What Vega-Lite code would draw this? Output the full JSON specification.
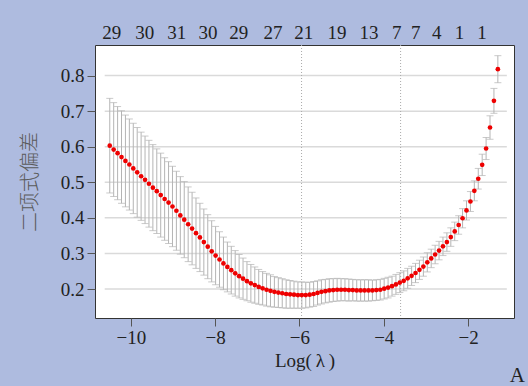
{
  "$schema": "https://vega.github.io/schema/vega-lite/v6.json",
  "width": 419,
  "height": 273,
  "autosize": {"type": "none"},
  "padding": {"left": 95, "top": 45, "right": 14, "bottom": 68},
  "background": "#aebbdf",
  "view": {"fill": "white", "stroke": "#333333", "strokeWidth": 1},
  "config": {
    "font": "Liberation Serif",
    "axis": {"domain": false, "grid": false, "tickSize": 8, "tickColor": "#555555", "labelColor": "#222222", "labelFontSize": 19, "labelFont": "Liberation Serif", "titleFontWeight": "normal", "labelFlush": false}
  },
  "title": {"text": "A", "orient": "bottom", "anchor": "end", "font": "Liberation Serif", "fontSize": 21, "fontWeight": "normal", "color": "#222222", "offset": -5, "dx": 11},
  "datasets": {
    "grid": [{"v": 0.2}, {"v": 0.3}, {"v": 0.4}, {"v": 0.5}, {"v": 0.6}, {"v": 0.7}, {"v": 0.8}],
    "vl": [{"x": -5.95}, {"x": -3.6}],
    "nz": [
      {"pos": -10.45, "n": "29"}, {"pos": -9.67, "n": "30"}, {"pos": -8.91, "n": "31"}, {"pos": -8.17, "n": "30"},
      {"pos": -7.44, "n": "29"}, {"pos": -6.63, "n": "27"}, {"pos": -5.90, "n": "21"}, {"pos": -5.11, "n": "19"},
      {"pos": -4.35, "n": "13"}, {"pos": -3.69, "n": "7"}, {"pos": -3.24, "n": "7"}, {"pos": -2.74, "n": "4"},
      {"pos": -2.20, "n": "1"}, {"pos": -1.67, "n": "1"}
    ],
    "cv": [
      {"x": -10.500, "m": 0.603, "lo": 0.470, "hi": 0.736},
      {"x": -10.407, "m": 0.592, "lo": 0.460, "hi": 0.724},
      {"x": -10.314, "m": 0.582, "lo": 0.451, "hi": 0.713},
      {"x": -10.221, "m": 0.571, "lo": 0.441, "hi": 0.701},
      {"x": -10.128, "m": 0.560, "lo": 0.431, "hi": 0.689},
      {"x": -10.035, "m": 0.550, "lo": 0.422, "hi": 0.678},
      {"x": -9.942, "m": 0.539, "lo": 0.412, "hi": 0.666},
      {"x": -9.849, "m": 0.528, "lo": 0.402, "hi": 0.654},
      {"x": -9.756, "m": 0.517, "lo": 0.393, "hi": 0.641},
      {"x": -9.663, "m": 0.507, "lo": 0.384, "hi": 0.630},
      {"x": -9.570, "m": 0.496, "lo": 0.374, "hi": 0.618},
      {"x": -9.477, "m": 0.485, "lo": 0.364, "hi": 0.606},
      {"x": -9.384, "m": 0.475, "lo": 0.356, "hi": 0.594},
      {"x": -9.291, "m": 0.464, "lo": 0.346, "hi": 0.582},
      {"x": -9.198, "m": 0.453, "lo": 0.337, "hi": 0.569},
      {"x": -9.105, "m": 0.443, "lo": 0.328, "hi": 0.558},
      {"x": -9.012, "m": 0.432, "lo": 0.319, "hi": 0.545},
      {"x": -8.919, "m": 0.420, "lo": 0.309, "hi": 0.531},
      {"x": -8.826, "m": 0.407, "lo": 0.298, "hi": 0.516},
      {"x": -8.733, "m": 0.395, "lo": 0.288, "hi": 0.502},
      {"x": -8.640, "m": 0.382, "lo": 0.277, "hi": 0.487},
      {"x": -8.547, "m": 0.370, "lo": 0.268, "hi": 0.472},
      {"x": -8.454, "m": 0.357, "lo": 0.258, "hi": 0.456},
      {"x": -8.361, "m": 0.345, "lo": 0.249, "hi": 0.441},
      {"x": -8.268, "m": 0.332, "lo": 0.239, "hi": 0.425},
      {"x": -8.175, "m": 0.319, "lo": 0.229, "hi": 0.409},
      {"x": -8.082, "m": 0.306, "lo": 0.220, "hi": 0.392},
      {"x": -7.989, "m": 0.294, "lo": 0.212, "hi": 0.376},
      {"x": -7.896, "m": 0.283, "lo": 0.205, "hi": 0.361},
      {"x": -7.803, "m": 0.272, "lo": 0.198, "hi": 0.346},
      {"x": -7.710, "m": 0.262, "lo": 0.192, "hi": 0.332},
      {"x": -7.617, "m": 0.253, "lo": 0.186, "hi": 0.320},
      {"x": -7.524, "m": 0.244, "lo": 0.180, "hi": 0.308},
      {"x": -7.431, "m": 0.236, "lo": 0.175, "hi": 0.297},
      {"x": -7.338, "m": 0.229, "lo": 0.171, "hi": 0.287},
      {"x": -7.245, "m": 0.222, "lo": 0.167, "hi": 0.277},
      {"x": -7.152, "m": 0.216, "lo": 0.163, "hi": 0.269},
      {"x": -7.059, "m": 0.211, "lo": 0.160, "hi": 0.262},
      {"x": -6.966, "m": 0.206, "lo": 0.157, "hi": 0.255},
      {"x": -6.873, "m": 0.202, "lo": 0.155, "hi": 0.249},
      {"x": -6.780, "m": 0.198, "lo": 0.152, "hi": 0.244},
      {"x": -6.687, "m": 0.195, "lo": 0.150, "hi": 0.240},
      {"x": -6.594, "m": 0.192, "lo": 0.149, "hi": 0.235},
      {"x": -6.501, "m": 0.190, "lo": 0.148, "hi": 0.232},
      {"x": -6.408, "m": 0.188, "lo": 0.147, "hi": 0.229},
      {"x": -6.315, "m": 0.186, "lo": 0.146, "hi": 0.226},
      {"x": -6.222, "m": 0.185, "lo": 0.146, "hi": 0.224},
      {"x": -6.129, "m": 0.184, "lo": 0.146, "hi": 0.222},
      {"x": -6.036, "m": 0.183, "lo": 0.146, "hi": 0.220},
      {"x": -5.943, "m": 0.183, "lo": 0.146, "hi": 0.220},
      {"x": -5.850, "m": 0.183, "lo": 0.147, "hi": 0.219},
      {"x": -5.757, "m": 0.184, "lo": 0.149, "hi": 0.219},
      {"x": -5.664, "m": 0.186, "lo": 0.151, "hi": 0.221},
      {"x": -5.571, "m": 0.189, "lo": 0.155, "hi": 0.223},
      {"x": -5.478, "m": 0.192, "lo": 0.158, "hi": 0.226},
      {"x": -5.385, "m": 0.194, "lo": 0.161, "hi": 0.227},
      {"x": -5.292, "m": 0.196, "lo": 0.163, "hi": 0.229},
      {"x": -5.199, "m": 0.197, "lo": 0.165, "hi": 0.229},
      {"x": -5.106, "m": 0.198, "lo": 0.166, "hi": 0.230},
      {"x": -5.013, "m": 0.198, "lo": 0.167, "hi": 0.229},
      {"x": -4.920, "m": 0.198, "lo": 0.167, "hi": 0.229},
      {"x": -4.827, "m": 0.197, "lo": 0.166, "hi": 0.228},
      {"x": -4.734, "m": 0.197, "lo": 0.167, "hi": 0.227},
      {"x": -4.641, "m": 0.196, "lo": 0.166, "hi": 0.226},
      {"x": -4.548, "m": 0.196, "lo": 0.166, "hi": 0.226},
      {"x": -4.455, "m": 0.196, "lo": 0.166, "hi": 0.226},
      {"x": -4.362, "m": 0.196, "lo": 0.166, "hi": 0.226},
      {"x": -4.269, "m": 0.196, "lo": 0.167, "hi": 0.225},
      {"x": -4.176, "m": 0.197, "lo": 0.168, "hi": 0.226},
      {"x": -4.083, "m": 0.198, "lo": 0.169, "hi": 0.227},
      {"x": -3.990, "m": 0.201, "lo": 0.172, "hi": 0.230},
      {"x": -3.897, "m": 0.204, "lo": 0.175, "hi": 0.233},
      {"x": -3.804, "m": 0.208, "lo": 0.180, "hi": 0.236},
      {"x": -3.711, "m": 0.213, "lo": 0.185, "hi": 0.241},
      {"x": -3.618, "m": 0.218, "lo": 0.190, "hi": 0.246},
      {"x": -3.525, "m": 0.223, "lo": 0.195, "hi": 0.251},
      {"x": -3.432, "m": 0.230, "lo": 0.202, "hi": 0.258},
      {"x": -3.339, "m": 0.237, "lo": 0.210, "hi": 0.264},
      {"x": -3.246, "m": 0.245, "lo": 0.218, "hi": 0.272},
      {"x": -3.153, "m": 0.254, "lo": 0.227, "hi": 0.281},
      {"x": -3.060, "m": 0.263, "lo": 0.236, "hi": 0.290},
      {"x": -2.967, "m": 0.275, "lo": 0.248, "hi": 0.302},
      {"x": -2.874, "m": 0.286, "lo": 0.260, "hi": 0.312},
      {"x": -2.781, "m": 0.297, "lo": 0.271, "hi": 0.323},
      {"x": -2.688, "m": 0.308, "lo": 0.282, "hi": 0.334},
      {"x": -2.595, "m": 0.320, "lo": 0.294, "hi": 0.346},
      {"x": -2.502, "m": 0.332, "lo": 0.306, "hi": 0.358},
      {"x": -2.409, "m": 0.346, "lo": 0.320, "hi": 0.372},
      {"x": -2.316, "m": 0.362, "lo": 0.336, "hi": 0.388},
      {"x": -2.223, "m": 0.380, "lo": 0.354, "hi": 0.406},
      {"x": -2.130, "m": 0.399, "lo": 0.372, "hi": 0.426},
      {"x": -2.037, "m": 0.421, "lo": 0.394, "hi": 0.448},
      {"x": -1.944, "m": 0.446, "lo": 0.418, "hi": 0.474},
      {"x": -1.851, "m": 0.476, "lo": 0.448, "hi": 0.504},
      {"x": -1.758, "m": 0.510, "lo": 0.481, "hi": 0.539},
      {"x": -1.665, "m": 0.549, "lo": 0.519, "hi": 0.579},
      {"x": -1.572, "m": 0.595, "lo": 0.564, "hi": 0.626},
      {"x": -1.479, "m": 0.654, "lo": 0.621, "hi": 0.687},
      {"x": -1.386, "m": 0.729, "lo": 0.694, "hi": 0.764},
      {"x": -1.293, "m": 0.818, "lo": 0.780, "hi": 0.856}
    ]
  },
  "layer": [
    {
      "data": {"name": "grid"},
      "mark": {"type": "rule", "color": "#dadada", "strokeWidth": 1.5},
      "encoding": {
        "y": {"field": "v", "type": "quantitative", "title": "二项式偏差", "scale": {"domain": [0.1185, 0.886], "nice": false, "zero": false},
              "axis": {"values": [0.2, 0.3, 0.4, 0.5, 0.6, 0.7, 0.8], "format": ".1f", "labelPadding": 3, "titleFont": "Noto Sans CJK SC", "titleFontSize": 20, "titleFontWeight": 300, "titleColor": "#5a5a5a", "titlePadding": 20}},
        "x": {"datum": -10.62, "type": "quantitative", "title": "Log(\u2009λ\u2009)", "scale": {"domain": [-10.85, -0.91], "nice": false, "zero": false},
              "axis": {"values": [-10, -8, -6, -4, -2], "labelPadding": 2, "titleFontSize": 19, "titleColor": "#222222", "titlePadding": 4}},
        "x2": {"datum": -1.08}
      }
    },
    {
      "data": {"name": "vl"},
      "mark": {"type": "rule", "color": "#aaaaaa", "strokeDash": [1, 2], "strokeWidth": 1},
      "encoding": {"x": {"field": "x", "type": "quantitative", "title": "Log(\u2009λ\u2009)"}}
    },
    {
      "data": {"name": "cv"},
      "mark": {"type": "errorbar", "ticks": {"size": 7}, "color": "#b4b4b4", "thickness": 1},
      "encoding": {
        "x": {"field": "x", "type": "quantitative", "title": "Log(\u2009λ\u2009)"},
        "y": {"field": "lo", "type": "quantitative", "title": "二项式偏差"},
        "y2": {"field": "hi"}
      }
    },
    {
      "data": {"name": "cv"},
      "mark": {"type": "circle", "color": "#ee0000", "size": 22, "opacity": 1},
      "encoding": {
        "x": {"field": "x", "type": "quantitative", "title": "Log(\u2009λ\u2009)"},
        "y": {"field": "m", "type": "quantitative", "title": "二项式偏差"}
      }
    },
    {
      "data": {"name": "nz"},
      "mark": {"type": "text", "fontSize": 19, "color": "#222222", "baseline": "alphabetic", "align": "center", "font": "Liberation Serif"},
      "encoding": {
        "x": {"field": "pos", "type": "quantitative", "title": "Log(\u2009λ\u2009)"},
        "y": {"datum": 0.904, "type": "quantitative", "title": "二项式偏差"},
        "text": {"field": "n"}
      }
    }
  ]
}
